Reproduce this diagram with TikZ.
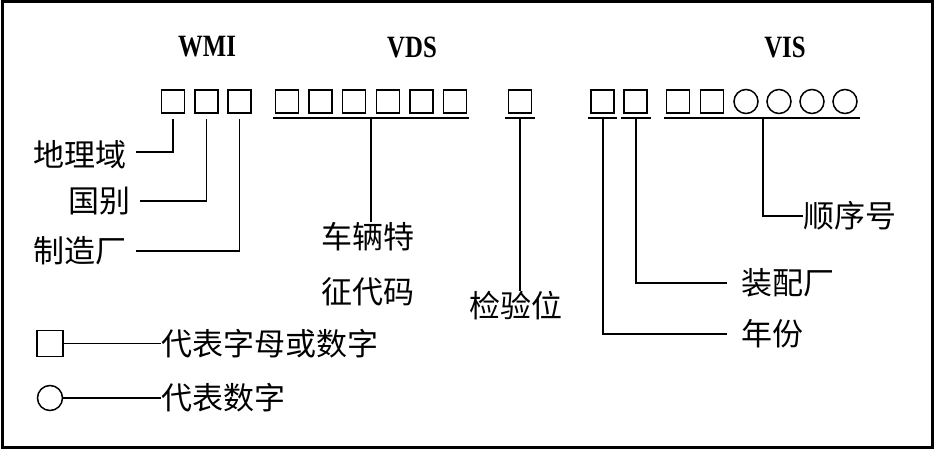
\documentclass[tikz,border=0pt]{standalone}
\usepackage{fontspec}
\setmainfont{Liberation Serif}
\newfontfamily\cjk{Noto Sans CJK SC}
\begin{document}
\begin{tikzpicture}[x=1pt,y=-1pt,
  sq/.style={draw,line width=1.5pt,minimum size=23pt,inner sep=0pt},
  ci/.style={draw,circle,line width=1.5pt,minimum size=24pt,inner sep=0pt},
  lbl/.style={font=\cjk\fontsize{31}{31}\selectfont,inner sep=0pt,anchor=west},
  head/.style={font=\bfseries\fontsize{31}{31}\selectfont,inner sep=0pt,xscale=0.8},
  ln/.style={line width=1.8pt}]
\useasboundingbox (0,0) rectangle (934,449);
\draw[line width=3pt] (2,2) rectangle (932,447);
% headings
\node[head] (hw) at (207,47) {WMI};
\node[head] (hv) at (412,47) {VDS};
\node[head] (hs) at (785,47) {VIS};
% WMI boxes
\node[sq] (w1) at (173,101.5) {};
\node[sq] (w2) at (206.5,101.5) {};
\node[sq] (w3) at (239.5,101.5) {};
% VDS boxes
\foreach \i/\x in {1/287,2/320.6,3/354.2,4/387.8,5/421.4,6/455}
  \node[sq] (d\i) at (\x,101.5) {};
% check digit
\node[sq] (c1) at (520,101.5) {};
% VIS
\node[sq] (s1) at (602.5,101.5) {};
\node[sq] (s2) at (635.5,101.5) {};
\node[sq] (s3) at (678,101.5) {};
\node[sq] (s4) at (712,101.5) {};
\node[ci] (o1) at (746,101.5) {};
\node[ci] (o2) at (779,101.5) {};
\node[ci] (o3) at (812,101.5) {};
\node[ci] (o4) at (845,101.5) {};
% underlines
\coordinate (ud1) at (273,118); \coordinate (ud2) at (469,118);
\coordinate (uc1) at (505,118); \coordinate (uc2) at (535,118);
\coordinate (uy1) at (588,118); \coordinate (uy2) at (617,118);
\coordinate (ua1) at (621,118); \coordinate (ua2) at (651,118);
\coordinate (us1) at (664,118); \coordinate (us2) at (860,118);
\draw[ln] (ud1) -- (ud2);
\draw[ln] (uc1) -- (uc2);
\draw[ln] (uy1) -- (uy2);
\draw[ln] (ua1) -- (ua2);
\draw[ln] (us1) -- (us2);
% labels
\node[lbl] (l1) at (33,155) {地理域};
\node[lbl] (l2) at (68,201) {国别};
\node[lbl] (l3) at (33,251) {制造厂};
\node[lbl] (l4) at (321,237) {车辆特};
\node[lbl] (l5) at (321,292) {征代码};
\node[lbl] (l6) at (469,306) {检验位};
\node[lbl] (l7) at (741,283) {装配厂};
\node[lbl] (l8) at (741,334) {年份};
\node[lbl] (l9) at (803,216) {顺序号};
% junction points
\coordinate (jw) at (0,119);
\coordinate (jd) at (371,118);
\coordinate (jc) at (520,118);
\coordinate (jy) at (603,118);
\coordinate (ja) at (636,118);
\coordinate (js) at (763,118);
% WMI connectors
\draw[ln] (w1.south |- jw) -- ++(0,33) -- ([xshift=10pt]l1.east |- 0,152);
\draw[ln] (w2.south |- jw) -- (w2.south |- l2.west) -- ([xshift=10pt]l2.east);
\draw[ln] (w3.south |- jw) -- (w3.south |- l3.west) -- ([xshift=10pt]l3.east);
% VDS
\draw[ln] (jd) -- (jd |- l4.north);
% check
\draw[ln] (jc) -- (jc |- l6.north);
% year / plant / serial
\draw[ln] (jy) -- (jy |- l8.west) -- ([xshift=-14pt]l8.west);
\draw[ln] (ja) -- (ja |- l7.west) -- ([xshift=-14pt]l7.west);
\draw[ln] (js) -- (js |- l9.west) -- (l9.west);
% legend
\node[sq,minimum size=26pt] (ls) at (50,343.5) {};
\node[ci,minimum size=25pt] (lc) at (50,398) {};
\node[lbl] (t1) at (161,343.5) {代表字母或数字};
\node[lbl] (t2) at (161,398) {代表数字};
\draw[line width=1.5pt] (ls.east) -- (t1.west);
\draw[line width=1.5pt] (lc.east) -- (t2.west);
\end{tikzpicture}
\end{document}
